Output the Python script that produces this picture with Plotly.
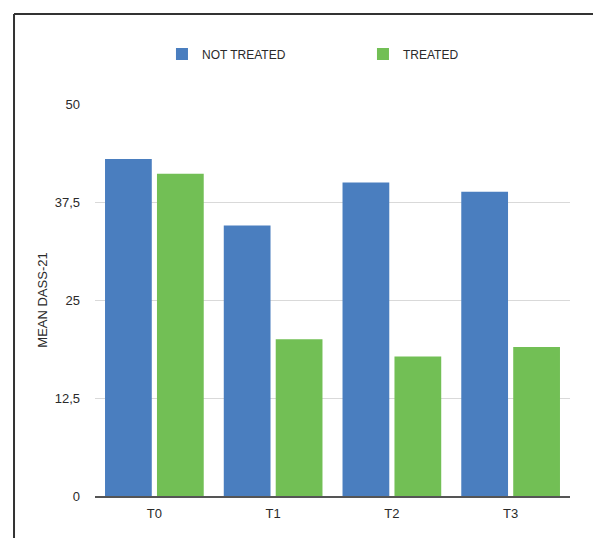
import plotly.graph_objects as go

# Mean DASS-21 scores at each time point
categories = ["T0", "T1", "T2", "T3"]
not_treated = [43.0, 34.5, 40.0, 38.8]
treated = [41.1, 20.0, 17.8, 19.0]
tick_values = [0, 12.5, 25, 37.5, 50]
tick_labels = ["0", "12,5", "25", "37,5", "50"]

BLUE = "#4a7ebf"
GREEN = "#72bf55"
FONT = "Liberation Sans, Arial, sans-serif"

fig = go.Figure()
fig.add_trace(go.Bar(name="NOT TREATED", x=categories, y=not_treated,
                     marker=dict(color=BLUE, line=dict(width=0))))
fig.add_trace(go.Bar(name="TREATED", x=categories, y=treated,
                     marker=dict(color=GREEN, line=dict(width=0))))

fig.update_layout(
    width=593, height=538,
    margin=dict(l=95, r=23, t=104, b=42),
    paper_bgcolor="white", plot_bgcolor="white",
    font=dict(family=FONT, size=13, color="#2a2a2a"),
    barmode="group", bargap=0.125, bargroupgap=0.1,
    showlegend=True,
    legend=dict(orientation="h", x=0.141, y=1.1276, xanchor="left", yanchor="middle",
                entrywidth=156, entrywidthmode="pixels",
                font=dict(family=FONT, size=12, color="#2a2a2a"),
                bgcolor="rgba(0,0,0,0)"),
    shapes=[
        # frame around the chart: top and left edges
        dict(type="line", xref="paper", yref="paper", x0=-0.1705, x1=1.06,
             y0=1.2296, y1=1.2296, line=dict(color="#333333", width=2)),
        dict(type="line", xref="paper", yref="paper", x0=-0.1705, x1=-0.1705,
             y0=1.2296, y1=-0.12, line=dict(color="#333333", width=2)),
    ],
)

fig.update_xaxes(showline=True, linecolor="#555555", linewidth=2,
                 showgrid=False, ticks="", tickfont=dict(size=13),
                 ticklabelstandoff=4)
fig.update_yaxes(range=[0, 50], tickvals=tick_values, ticktext=tick_labels,
                 showgrid=True, gridcolor="#d9d9d9", gridwidth=1,
                 zeroline=False, ticks="", ticklabelstandoff=14,
                 tickfont=dict(size=13),
                 title=dict(text="MEAN DASS-21", font=dict(size=13), standoff=4))

fig.write_html("out.html")
